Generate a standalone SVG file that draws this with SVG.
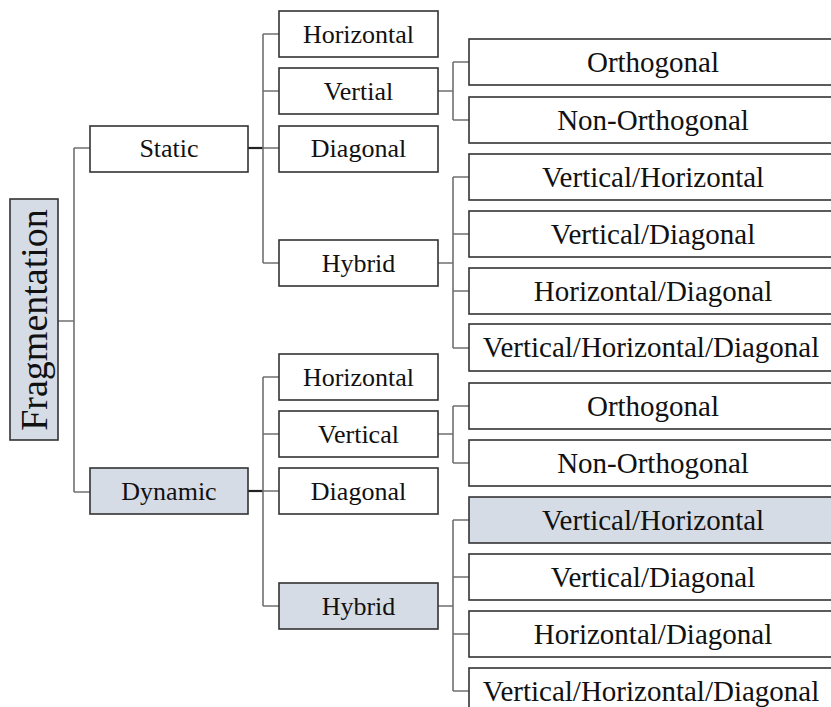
<svg xmlns="http://www.w3.org/2000/svg" width="831" height="707" viewBox="0 0 831 707">
<style>
.box{fill:#ffffff;stroke:#333333;stroke-width:1.6}
.hl{fill:#d6dce6}
.t{fill:#111111;text-anchor:middle}
.s{font-size:26px}
.l{font-size:29px}
.c{fill:none;stroke:#707070;stroke-width:1.6}
.d{fill:none;stroke:#222222;stroke-width:2.2}
</style>
<rect width="831" height="707" fill="#ffffff"/>
<g id="connectors">
<path class="c" d="M58,321H74M74,148V492M74,148H90M74,492H90"/>
<path class="d" d="M248,148H263"/>
<path class="c" d="M263,34V263M263,34H279M263,91H279M263,148H279M263,263H279"/>
<path class="c" d="M438,91H453M453,62V120M453,62H469M453,120H469"/>
<path class="c" d="M438,263H453M453,177V348M453,177H469M453,234H469M453,291H469M453,348H469"/>
<path class="d" d="M248,491H263"/>
<path class="c" d="M263,377V606M263,377H279M263,434H279M263,491H279M263,606H279"/>
<path class="c" d="M438,434H453M453,406V463M453,406H469M453,463H469"/>
<path class="c" d="M438,606H453M453,520V691M453,520H469M453,577H469M453,634H469M453,691H469"/>
</g>
<g font-family="Liberation Serif, Times New Roman, Tinos, Noto Serif, DejaVu Serif, serif">
<g id="fragmentation"><rect class="box hl" x="10" y="199" width="48" height="241"/><text class="t" font-size="38" transform="translate(47,320) rotate(-90)" x="0" y="0">Fragmentation</text></g>
<g id="static"><rect class="box" x="90" y="126" width="158" height="46"/><text class="t s" x="169" y="157">Static</text></g>
<g id="dynamic"><rect class="box hl" x="90" y="468" width="158" height="46"/><text class="t s" x="169" y="499.5">Dynamic</text></g>
<g id="s-horizontal"><rect class="box" x="279" y="11" width="159" height="46"/><text class="t s" x="358.5" y="42.5">Horizontal</text></g>
<g id="s-vertial"><rect class="box" x="279" y="68" width="159" height="46"/><text class="t s" x="358.5" y="99.5">Vertial</text></g>
<g id="s-diagonal"><rect class="box" x="279" y="126" width="159" height="46"/><text class="t s" x="358.5" y="157">Diagonal</text></g>
<g id="s-hybrid"><rect class="box" x="279" y="240" width="159" height="46"/><text class="t s" x="358.5" y="271.5">Hybrid</text></g>
<g id="s-orthogonal"><rect class="box" x="469" y="39" width="372" height="46"/><text class="t l" x="653" y="71.5">Orthogonal</text></g>
<g id="s-nonorthogonal"><rect class="box" x="469" y="97" width="372" height="46"/><text class="t l" x="653" y="129.5">Non-Orthogonal</text></g>
<g id="s-vh"><rect class="box" x="469" y="154" width="372" height="46"/><text class="t l" x="653" y="186.5">Vertical/Horizontal</text></g>
<g id="s-vd"><rect class="box" x="469" y="211" width="372" height="46"/><text class="t l" x="653" y="243.5">Vertical/Diagonal</text></g>
<g id="s-hd"><rect class="box" x="469" y="268" width="372" height="46"/><text class="t l" x="653" y="300.5">Horizontal/Diagonal</text></g>
<g id="s-vhd"><rect class="box" x="469" y="324" width="372" height="47"/><text class="t l" x="651" y="357">Vertical/Horizontal/Diagonal</text></g>
<g id="d-horizontal"><rect class="box" x="279" y="354" width="159" height="46"/><text class="t s" x="358.5" y="385.5">Horizontal</text></g>
<g id="d-vertical"><rect class="box" x="279" y="411" width="159" height="46"/><text class="t s" x="358.5" y="442.5">Vertical</text></g>
<g id="d-diagonal"><rect class="box" x="279" y="468" width="159" height="46"/><text class="t s" x="358.5" y="499.5">Diagonal</text></g>
<g id="d-hybrid"><rect class="box hl" x="279" y="583" width="159" height="46"/><text class="t s" x="358.5" y="614.5">Hybrid</text></g>
<g id="d-orthogonal"><rect class="box" x="469" y="383" width="372" height="46"/><text class="t l" x="653" y="415.5">Orthogonal</text></g>
<g id="d-nonorthogonal"><rect class="box" x="469" y="440" width="372" height="46"/><text class="t l" x="653" y="472.5">Non-Orthogonal</text></g>
<g id="d-vh"><rect class="box hl" x="469" y="497" width="372" height="46"/><text class="t l" x="653" y="529.5">Vertical/Horizontal</text></g>
<g id="d-vd"><rect class="box" x="469" y="554" width="372" height="46"/><text class="t l" x="653" y="586.5">Vertical/Diagonal</text></g>
<g id="d-hd"><rect class="box" x="469" y="611" width="372" height="46"/><text class="t l" x="653" y="643.5">Horizontal/Diagonal</text></g>
<g id="d-vhd"><rect class="box" x="469" y="668" width="372" height="46"/><text class="t l" x="651" y="700.5">Vertical/Horizontal/Diagonal</text></g>
</g>
</svg>
